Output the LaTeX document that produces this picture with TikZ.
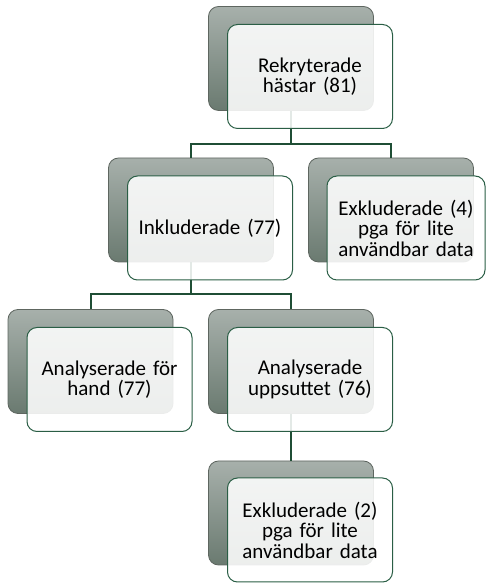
\documentclass[tikz,border=0pt]{standalone}
\usepackage{fontspec}
\setmainfont{Carlito}
\usepackage{tikz}
\usetikzlibrary{positioning}
\definecolor{boxline}{HTML}{2A5E45}
\definecolor{connline}{HTML}{1F4E35}
\definecolor{backtop}{HTML}{A7B0AB}
\definecolor{backbot}{HTML}{6A7A70}
\definecolor{backline}{HTML}{5E6660}

\begin{document}
\begin{tikzpicture}[
    x=1pt, y=1pt,
    node distance=151.5pt,
    font=\fontsize{21}{20.5}\selectfont,
    back/.style={
		rectangle,
		rounded corners=10pt,
		draw=backline,
		line width=0.8pt,
		top color=backtop,
		bottom color=backbot,
		minimum width=165pt,
		minimum height=104pt,
		inner sep=0pt
	},
    front/.style={
		rectangle,
		rounded corners=10pt,
		draw=boxline,
		line width=1pt,
		fill=white,
		fill opacity=0.88,
		text opacity=1,
		text centered,
		text width=156pt,
		minimum width=165pt,
		minimum height=104pt,
		inner sep=0pt
	},
	conn/.style={
		draw=connline,
		line width=2pt
	}
  ]
  \useasboundingbox (0,0) rectangle (486,583);

    % the shaded boxes behind
  \node [back] (rekB) at (291,524.5) {};
  \node [back, below of=rekB, xshift=-100pt] (inkB) {};
  \node [back, below of=rekB, xshift=100pt] (exkaB) {};
  \node [back, below of=inkB, xshift=-100.5pt] (handB) {};
  \node [back, below of=inkB, xshift=100pt] (uppB) {};
  \node [back, below of=uppB] (exkbB) {};

    % lines between the levels
  \draw [conn] (rekB.south) -- ++(0,-33) -| (inkB.north);
  \draw [conn] (rekB.south) -- ++(0,-33) -| (exkaB.north);
  \draw [conn] (inkB.south) -- ++(0,-32) -| (handB.north);
  \draw [conn] (inkB.south) -- ++(0,-32) -| (uppB.north);
  \draw [conn] (uppB.south) -- (exkbB.north);

    % the white boxes with the text
  \node [front] (rek) at ([shift={(19,-18)}]rekB.center)
 {Rekryterade\\hästar (81)};
  \node [front] (ink) at ([shift={(19,-18)}]inkB.center)
 {Inkluderade (77)};
  \node [front, minimum width=158pt, text width=150pt] (exka) at ([shift={(15,-18)}]exkaB.center)
 {Exkluderade (4)\\pga för lite\\användbar data};
  \node [front] (hand) at ([shift={(19,-18)}]handB.center)
 {Analyserade för\\hand (77)};
  \node [front] (upp) at ([shift={(19,-18)}]uppB.center)
 {Analyserade\\uppsuttet (76)};
  \node [front] (exkb) at ([shift={(19,-17)}]exkbB.center)
 {Exkluderade (2)\\pga för lite\\användbar data};

\end{tikzpicture}
\end{document}
